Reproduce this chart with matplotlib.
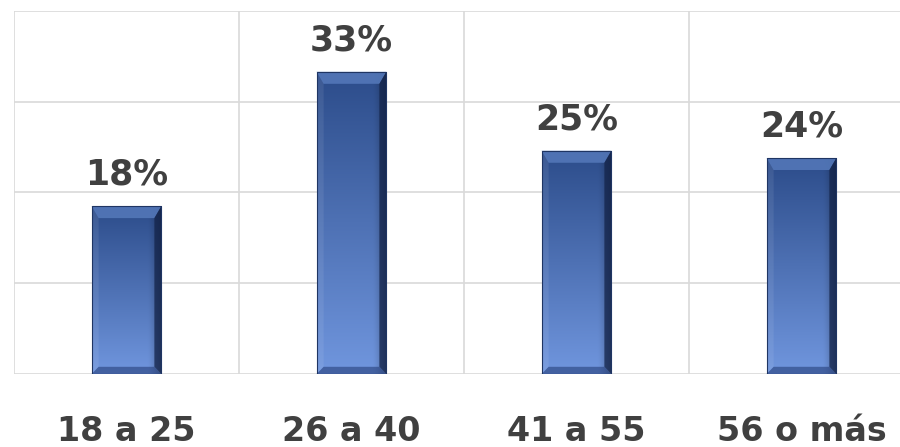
import numpy as np
import matplotlib
matplotlib.use("Agg")
import matplotlib.pyplot as plt
from matplotlib.patches import Polygon

# data
categories = ["18 a 25", "26 a 40", "41 a 55", "56 o más"]
shares = [0.185, 0.333, 0.246, 0.238]
value_labels = ["18%", "33%", "25%", "24%"]

plt.rcParams['font.family'] = ['DejaVu Sans']
text_color = "#404040"
grid_color = "#d9d9d9"

fig = plt.figure(figsize=(9, 4.47), dpi=100)
# plot area runs a bit past the right edge, as in the original
ax = fig.add_axes([14 / 900, 73 / 447, 900 / 900, 363 / 447])

x = np.arange(len(categories))
bars = ax.bar(x, shares, width=0.31, color="none", edgecolor="#1f3563",
              linewidth=0.8, zorder=3)

ax.set_xlim(-0.5, len(categories) - 0.5)
ax.set_ylim(0, 0.4)
ax.set_yticks(np.arange(0, 0.41, 0.1))
ax.set_xticks(np.arange(-0.5, len(categories), 1.0))
ax.grid(True, color=grid_color, linewidth=1.2, zorder=0)
ax.tick_params(length=0, labelbottom=False, labelleft=False)
for s in ax.spines.values():
    s.set_visible(False)

# bevel size in data units (pixels -> data)
fig.canvas.draw()
inv = ax.transData.inverted()
p0 = inv.transform((0, 0))
p1 = inv.transform((7, 12))
bx, by = p1 - p0

top_rgb = np.array([0x2c, 0x4c, 0x8a]) / 255
bot_rgb = np.array([0x70, 0x96, 0xde]) / 255
ny, nx = 100, 40
tv = np.linspace(0, 1, ny)[:, None, None]  # 0 = top
grad = top_rgb * (1 - tv) + bot_rgb * tv
hx = np.linspace(0, 1, nx)[None, :, None]
shade = 1 - 0.35 * np.clip((hx - 0.8) / 0.2, 0, 1) ** 1.5
img = np.clip(grad * shade, 0, 1)

for bar in bars:
    x0, y0 = bar.get_x(), bar.get_y()
    x1, y1 = x0 + bar.get_width(), y0 + bar.get_height()
    im = ax.imshow(img, extent=[x0, x1, y0, y1], aspect="auto", zorder=2,
                   interpolation="bilinear")
    im.set_clip_path(bar)
    ix0, ix1, iy0, iy1 = x0 + bx, x1 - bx, y0 + by * 0.6, y1 - by
    bevels = [
        ([(x0, y1), (x1, y1), (ix1, iy1), (ix0, iy1)], "#5377b8", 0.9),
        ([(x1, y1), (x1, y0), (ix1, iy0), (ix1, iy1)], "#14244a", 0.75),
        ([(x0, y0), (x0, y1), (ix0, iy1), (ix0, iy0)], "#ffffff", 0.08),
        ([(x0, y0), (x1, y0), (ix1, iy0), (ix0, iy0)], "#263f7a", 0.6),
    ]
    for pts, c, a in bevels:
        ax.add_patch(Polygon(pts, closed=True, facecolor=c, alpha=a,
                             edgecolor="none", zorder=2.5))

for xi, v, lab in zip(x, shares, value_labels):
    ax.annotate(lab, xy=(xi, v), xytext=(0, 15.5), textcoords="offset points",
                ha="center", va="baseline", fontsize=25, fontweight="bold",
                color=text_color)

for xi, cat in zip(x, categories):
    ax.annotate(cat, xy=(xi, 0), xycoords=("data", "axes fraction"),
                xytext=(0, -48.5), textcoords="offset points",
                ha="center", va="baseline", fontsize=24, fontweight="bold",
                color=text_color, annotation_clip=False)

fig.savefig("out.png", dpi=100)
